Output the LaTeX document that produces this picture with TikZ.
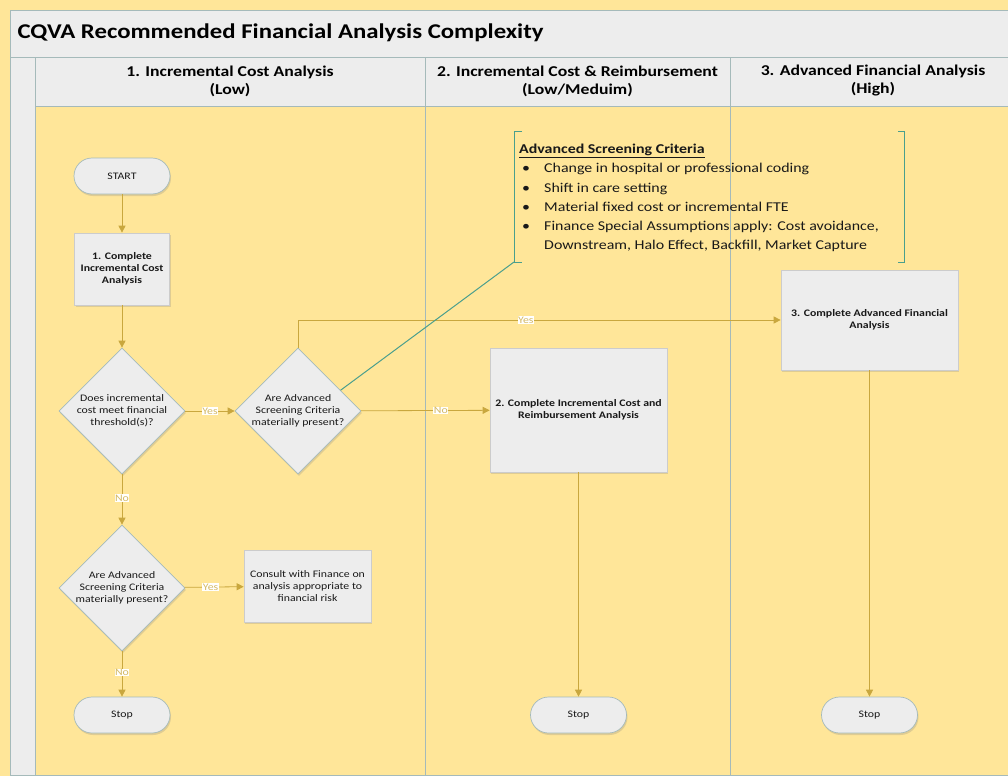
\documentclass[tikz,border=0pt]{standalone}
\usepackage{fontspec}
\setmainfont{Carlito}[FakeStretch=1.18]
\usepackage{tikz}
\usetikzlibrary{arrows.meta,shapes.geometric,shadows}

\definecolor{lane}{HTML}{FFE699}
\definecolor{head}{HTML}{EDEDED}
\definecolor{frame}{HTML}{A5BABA}
\definecolor{flow}{HTML}{C9A73E}
\definecolor{note}{HTML}{4A9F8D}

\tikzstyle{fcbox} = [fill=head, draw=frame, line width=0.7pt, align=center, text=black!90,
  drop shadow={opacity=0.25, shadow xshift=1pt, shadow yshift=-2pt},
  font=\fontsize{10}{12}\selectfont]
\tikzstyle{terminal} = [fcbox, rectangle, rounded corners=18pt, minimum width=96pt, minimum height=36pt]
\tikzstyle{process} = [fcbox, rectangle, draw=black!20, font=\fontsize{10}{12}\selectfont\bfseries]
\tikzstyle{decision} = [fcbox, diamond, minimum width=126pt, minimum height=126pt, inner sep=0pt]
\tikzstyle{edge} = [draw, flow, line width=0.8pt, -{Triangle[length=7pt,width=7pt]}]
\tikzstyle{answer} = [fill=white, text=flow!80!white, inner sep=0.5pt, font=\fontsize{10}{11}\selectfont]
\tikzstyle{lanehead} = [align=center, font=\fontsize{15}{18}\selectfont\bfseries]

\begin{document}
\begin{tikzpicture}[x=1pt, y=-1pt]
	\useasboundingbox (0,0) rectangle (1008,776);
	\fill[lane] (0,0) rectangle (1008,776);

	% pool title and lanes
	\draw[fill=head, draw=frame] (10,10) rectangle (1020,57);
	\node[anchor=west, font=\fontsize{21}{24}\selectfont\bfseries] (title) at (14,33) {CQVA Recommended Financial Analysis Complexity};
	\draw[fill=head, draw=frame] (10,57) rectangle (35,775);
	\foreach \from/\to in {35/425, 425/730, 730/1020}
		\draw[fill=head, draw=frame] (\from,57) rectangle (\to,106);
	\foreach \x in {425, 730}
		\draw[frame] (\x,106) -- (\x,775);
	\draw[frame] (10,775) -- (1020,775);

	\node[lanehead] (h1) at (230,81) {1. Incremental Cost Analysis\\(Low)};
	\node[lanehead] (h2) at (577.5,81) {2. Incremental Cost \& Reimbursement\\(Low/Meduim)};
	\node[lanehead] (h3) at (873,81) {3. Advanced Financial Analysis\\(High)};

	% flow
	\node[terminal] (start) at (122,176) {START};
	\node[process, minimum width=95pt, minimum height=72pt] (b1) at (122,269) {1. Complete\\Incremental Cost\\Analysis};
	\node[decision] (d1) at (122,411) {Does incremental\\cost meet financial\\threshold(s)?};
	\node[decision] (d2) at (298,411) {Are Advanced\\Screening Criteria\\materially present?};
	\node[decision] (d3) at (122,588) {Are Advanced\\Screening Criteria\\materially present?};
	\node[process, font=\fontsize{10}{12}\selectfont, minimum width=127pt, minimum height=72pt] (cons) at (307.5,586) {Consult with Finance on\\analysis appropriate to\\financial risk};
	\node[terminal] (stop1) at (122,715) {Stop};

	\node[process, minimum width=177pt, minimum height=124pt] (b2) at (578.5,410) {2. Complete Incremental Cost and\\Reimbursement Analysis};
	\node[terminal] (stop2) at (578.5,715) {Stop};

	\node[process, minimum width=177pt, minimum height=100pt] (b3) at (869.5,320) {3. Complete Advanced Financial\\Analysis};
	\node[terminal] (stop3) at (869.5,715) {Stop};

	\foreach \source/\dest in {start/b1, b1/d1, b2/stop2, b3/stop3}
		\path[edge] (\source) -- (\dest);
	\foreach \source/\dest/\ans/\where in {d1/d2/Yes/0.5, d1/d3/No/0.47, d2/b2/No/0.62, d3/cons/Yes/0.44, d3/stop1/No/0.47}
		\path[edge] (\source) -- node[answer, pos=\where] {\ans} (\dest);
	\path[edge] (d2.north) |- node[answer, pos=0.736] {Yes} (b3.west);

	% criteria annotation
	\node[anchor=north west, align=left, inner sep=0pt, text=black!90, font=\fontsize{13.5}{19.2}\selectfont] (crit) at (519,144)
		{\textbf{\underline{Advanced Screening Criteria}}\\
		\makebox[25pt][l]{\hspace{3pt}\textbullet}Change in hospital or professional coding\\
		\makebox[25pt][l]{\hspace{3pt}\textbullet}Shift in care setting\\
		\makebox[25pt][l]{\hspace{3pt}\textbullet}Material fixed cost or incremental FTE\\
		\makebox[25pt][l]{\hspace{3pt}\textbullet}Finance Special Assumptions apply: Cost avoidance,\\
		\hspace*{25pt}Downstream, Halo Effect, Backfill, Market Capture};
	\coordinate (tail) at (514,262);
	\draw[note, line width=1pt] (522,131) -- (514,131) -- (tail) -- (522,262);
	\draw[note, line width=1pt] (898,131) -- (904,131) -- (904,262) -- (898,262);
	\draw[note, line width=1pt] (tail) -- (d2.26.6);
\end{tikzpicture}
\end{document}
